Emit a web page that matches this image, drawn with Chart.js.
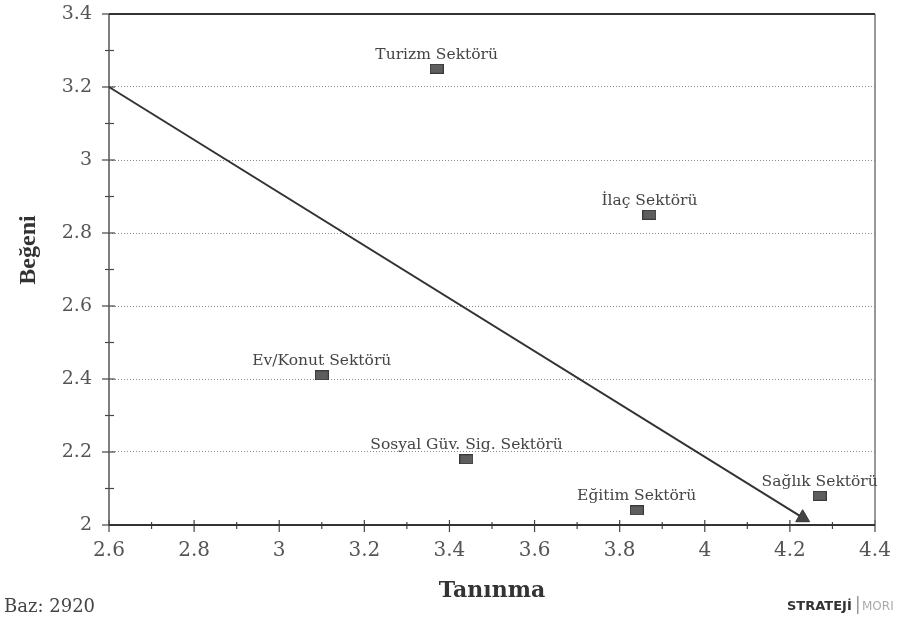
<!DOCTYPE html>
<html>
<head>
<meta charset="utf-8">
<script src="https://cdn.jsdelivr.net/npm/chart.js"></script>
<style>
  body { margin: 0; background: #fff; }
  #wrap { width: 903px; height: 621px; }
</style>
</head>
<body>
<div id="wrap"><canvas id="chart"></canvas></div>
<script>
// sector scores
const sectors = ['Turizm Sektörü', 'İlaç Sektörü', 'Ev/Konut Sektörü', 'Sosyal Güv. Sig. Sektörü', 'Eğitim Sektörü', 'Sağlık Sektörü'];
const tanınma = [3.37, 3.87, 3.10, 3.44, 3.84, 4.27];
const begeni = [3.25, 2.85, 2.41, 2.18, 2.04, 2.08];

// trend arrow
const trendX = [2.6, 4.23];
const trendY = [3.2, 2.02];

const xRange = [2.6, 4.4];
const yRange = [2, 3.4];

function isMajor(v) {
    return Math.round(v * 10) % 2 === 0;
}
function fmt(v) {
    return String(Number(v.toFixed(1)));
}

// little grey box used as marker
const box = document.createElement('canvas');
box.width = 14;
box.height = 10;
const bctx = box.getContext('2d');
bctx.fillStyle = '#5e5e5e';
bctx.fillRect(0, 0, 14, 10);
bctx.strokeStyle = '#3a3a3a';
bctx.strokeRect(0.5, 0.5, 13, 9);

const framePlugin = {
    id: 'frame',
    beforeDatasetsDraw(chart) {
        const { ctx, chartArea: a, scales } = chart;
        ctx.save();
        // ticks crossing the axes
        ctx.strokeStyle = '#444';
        ctx.lineWidth = 1.2;
        scales.y.ticks.forEach(t => {
            const py = scales.y.getPixelForValue(t.value);
            const m = isMajor(t.value);
            ctx.beginPath();
            ctx.moveTo(a.left - (m ? 7 : 4), py);
            ctx.lineTo(a.left + (m ? 6 : 5), py);
            ctx.stroke();
        });
        scales.x.ticks.forEach(t => {
            const px = scales.x.getPixelForValue(t.value);
            const m = isMajor(t.value);
            ctx.beginPath();
            ctx.moveTo(px, a.bottom - (m ? 5 : 3));
            ctx.lineTo(px, a.bottom + (m ? 7 : 4));
            ctx.stroke();
        });
        // frame
        ctx.strokeStyle = '#777';
        ctx.lineWidth = 1.5;
        ctx.beginPath();
        ctx.moveTo(a.right, a.top);
        ctx.lineTo(a.right, a.bottom);
        ctx.stroke();
        ctx.strokeStyle = '#555';
        ctx.beginPath();
        ctx.moveTo(a.left, a.top);
        ctx.lineTo(a.left, a.bottom);
        ctx.stroke();
        ctx.strokeStyle = '#333';
        ctx.lineWidth = 2;
        ctx.beginPath();
        ctx.moveTo(a.left, a.top);
        ctx.lineTo(a.right, a.top);
        ctx.moveTo(a.left, a.bottom);
        ctx.lineTo(a.right, a.bottom);
        ctx.stroke();
        ctx.restore();
    },
    afterDatasetsDraw(chart) {
        const { ctx } = chart;
        const meta = chart.getDatasetMeta(0);
        ctx.save();
        ctx.font = '15.5px "DejaVu Serif"';
        ctx.fillStyle = '#444';
        ctx.textAlign = 'center';
        ctx.textBaseline = 'alphabetic';
        meta.data.forEach((p, i) => {
            ctx.fillText(sectors[i], p.x, p.y - 10);
        });

        // y title
        ctx.save();
        ctx.translate(29, 250);
        ctx.rotate(-Math.PI / 2);
        ctx.font = 'bold 24px "Liberation Serif"';
        ctx.fillStyle = '#333';
        ctx.textBaseline = 'middle';
        ctx.fillText('Beğeni', 0, 0);
        ctx.restore();

        // footer
        ctx.textAlign = 'left';
        ctx.font = '18px "DejaVu Serif"';
        ctx.fillStyle = '#444';
        ctx.fillText('Baz: 2920', 4, 612);

        ctx.font = 'bold 13px "DejaVu Sans"';
        ctx.fillStyle = '#333';
        ctx.fillText('STRATEJİ', 787, 610);
        ctx.fillStyle = '#999';
        ctx.fillRect(857, 596, 1.5, 18);
        ctx.font = '12px "DejaVu Sans"';
        ctx.fillStyle = '#aaa';
        ctx.fillText('MORI', 862, 610);
        ctx.restore();
    }
};

new Chart(document.getElementById('chart'), {
    type: 'scatter',
    data: {
        datasets: [
            {
                label: 'Sektörler',
                data: tanınma.map((x, i) => ({ x, y: begeni[i] })),
                pointStyle: box,
                pointRadius: 7,
                showLine: false
            },
            {
                label: 'Trend',
                data: trendX.map((x, i) => ({ x, y: trendY[i] })),
                showLine: true,
                borderColor: '#333',
                borderWidth: 2,
                backgroundColor: '#444',
                pointStyle: 'triangle',
                pointRadius: [0, 8],
                pointBorderWidth: 1,
                pointBorderColor: '#333',
                clip: false
            }
        ]
    },
    plugins: [framePlugin],
    options: {
        responsive: true,
        maintainAspectRatio: false,
        animation: false,
        layout: { padding: { top: 14, right: 28, left: 0, bottom: 0 } },
        plugins: {
            legend: { display: false },
            tooltip: { enabled: false }
        },
        scales: {
            x: {
                type: 'linear',
                min: xRange[0],
                max: xRange[1],
                afterFit: s => {
                    s.height = 96;
                    s.paddingLeft = 0;
                    s.paddingRight = 0;
                },
                grid: { display: false, drawTicks: false },
                border: { display: false },
                ticks: {
                    stepSize: 0.1,
                    autoSkip: false,
                    maxRotation: 0,
                    padding: 14,
                    color: '#555',
                    font: { family: 'DejaVu Serif', size: 20 },
                    callback: v => isMajor(v) ? fmt(v) : ''
                },
                title: {
                    display: true,
                    text: 'Tanınma',
                    color: '#333',
                    font: { family: 'DejaVu Serif', size: 22, weight: 'bold' },
                    padding: { top: 0, bottom: 17 }
                }
            },
            y: {
                min: yRange[0],
                max: yRange[1],
                afterFit: s => {
                    s.width = 109;
                    s.paddingTop = 0;
                    s.paddingBottom = 0;
                },
                grid: {
                    drawTicks: false,
                    lineWidth: 1,
                    color: c => (isMajor(c.tick.value) && c.tick.value > 2.05 && c.tick.value < 3.35) ? '#8a8a8a' : 'rgba(0,0,0,0)'
                },
                border: { display: false, dash: [1, 2] },
                ticks: {
                    stepSize: 0.1,
                    autoSkip: false,
                    padding: 17,
                    color: '#555',
                    font: { family: 'DejaVu Serif', size: 19 },
                    callback: v => isMajor(v) ? fmt(v) : ''
                }
            }
        }
    }
});
</script>
</body>
</html>
